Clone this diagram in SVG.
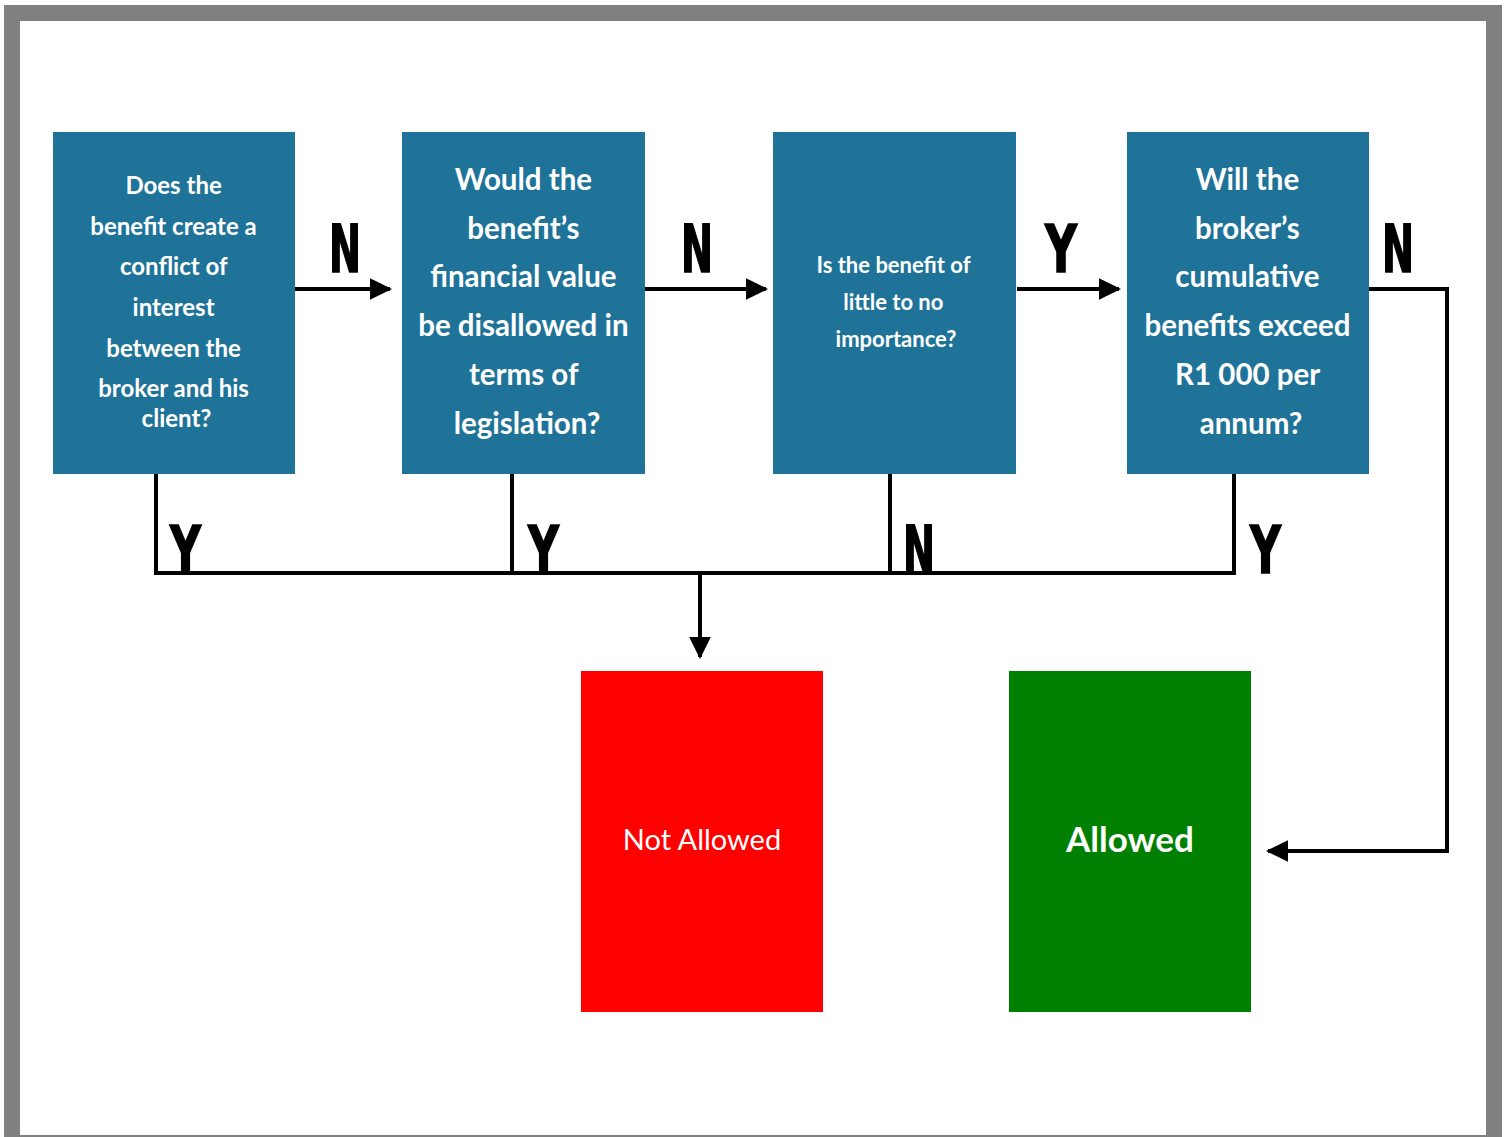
<svg xmlns="http://www.w3.org/2000/svg" width="1509" height="1137" viewBox="0 0 1509 1137">
<style>
.q{fill:#1F7398}
.t{font-family:Lato,"Open Sans","Liberation Sans",sans-serif;font-weight:bold;fill:#fff;text-anchor:middle}
.yn{font-family:"DejaVu Sans Condensed","DejaVu Sans",sans-serif;font-weight:bold;font-size:66px;fill:#000;stroke:#000;stroke-width:1.5}
.ln{fill:none;stroke:#000;stroke-width:4}
</style>
<defs>
<marker id="ah" markerWidth="6" markerHeight="6" refX="5" refY="3" orient="auto" markerUnits="strokeWidth">
<path d="M0,0.3 L5.5,3 L0,5.7 Z" fill="#000"/>
</marker>
</defs>
<rect x="0" y="0" width="1509" height="1137" fill="#fff"/>
<rect x="12" y="13" width="1482" height="1130" fill="#fff" stroke="#808080" stroke-width="16"/>

<g id="q1">
<rect class="q" x="53" y="132" width="242" height="342"/>
<text class="t" font-size="24">
<tspan x="176.5" y="194">Does the</tspan>
<tspan x="176.5" y="235">benefit create a</tspan>
<tspan x="176.5" y="275">conflict of</tspan>
<tspan x="176.5" y="316">interest</tspan>
<tspan x="176.5" y="357">between the</tspan>
<tspan x="176.5" y="397">broker and his</tspan>
<tspan x="176.5" y="427">client?</tspan>
</text>
</g>
<g id="q2">
<rect class="q" x="402" y="132" width="243" height="342"/>
<text class="t" font-size="29.5">
<tspan x="527" y="190">Would the</tspan>
<tspan x="527" y="239">benefit’s</tspan>
<tspan x="527" y="287">financial value</tspan>
<tspan x="527" y="336">be disallowed in</tspan>
<tspan x="527" y="385">terms of</tspan>
<tspan x="527" y="434">legislation?</tspan>
</text>
</g>
<g id="q3">
<rect class="q" x="773" y="132" width="243" height="342"/>
<text class="t" font-size="22">
<tspan x="896" y="273">Is the benefit of</tspan>
<tspan x="896" y="310">little to no</tspan>
<tspan x="896" y="347">importance?</tspan>
</text>
</g>
<g id="q4">
<rect class="q" x="1127" y="132" width="242" height="342"/>
<text class="t" font-size="29.5">
<tspan x="1251" y="190">Will the</tspan>
<tspan x="1251" y="239">broker’s</tspan>
<tspan x="1251" y="287">cumulative</tspan>
<tspan x="1251" y="336">benefits exceed</tspan>
<tspan x="1251" y="385">R1 000 per</tspan>
<tspan x="1251" y="434">annum?</tspan>
</text>
</g>
<g id="notallowed">
<rect x="581" y="671" width="242" height="341" fill="#FF0000"/>
<text x="702" y="850" font-family="Lato,'Open Sans','Liberation Sans',sans-serif" font-size="29" fill="#fff" text-anchor="middle">Not Allowed</text>
</g>
<g id="allowed">
<rect x="1009" y="671" width="242" height="341" fill="#008000"/>
<text x="1130" y="852" font-family="Lato,'Open Sans','Liberation Sans',sans-serif" font-weight="bold" font-size="35" fill="#fff" text-anchor="middle">Allowed</text>
</g>

<g id="connectors">
<line class="ln" x1="295" y1="289" x2="390" y2="289" marker-end="url(#ah)"/>
<line class="ln" x1="645" y1="289" x2="766" y2="289" marker-end="url(#ah)"/>
<line class="ln" x1="1017" y1="289" x2="1119" y2="289" marker-end="url(#ah)"/>
<polyline class="ln" points="1369,289 1447,289 1447,851 1268,851" marker-end="url(#ah)"/>
<polyline class="ln" points="156,474 156,573 1234,573 1234,474"/>
<line class="ln" x1="512" y1="474" x2="512" y2="573"/>
<line class="ln" x1="890" y1="474" x2="890" y2="573"/>
<line class="ln" x1="700" y1="573" x2="700" y2="657" marker-end="url(#ah)"/>
</g>

<g id="labels">
<text class="yn" x="329" y="272" textLength="32" lengthAdjust="spacingAndGlyphs">N</text>
<text class="yn" x="681" y="272" textLength="32" lengthAdjust="spacingAndGlyphs">N</text>
<text class="yn" x="1045" y="272" textLength="32" lengthAdjust="spacingAndGlyphs">Y</text>
<text class="yn" x="1382" y="272" textLength="32" lengthAdjust="spacingAndGlyphs">N</text>
<text class="yn" x="170" y="573" textLength="31" lengthAdjust="spacingAndGlyphs">Y</text>
<text class="yn" x="528" y="573" textLength="31" lengthAdjust="spacingAndGlyphs">Y</text>
<text class="yn" x="903" y="573" textLength="32" lengthAdjust="spacingAndGlyphs">N</text>
<text class="yn" x="1250" y="573" textLength="31" lengthAdjust="spacingAndGlyphs">Y</text>
</g>
</svg>
